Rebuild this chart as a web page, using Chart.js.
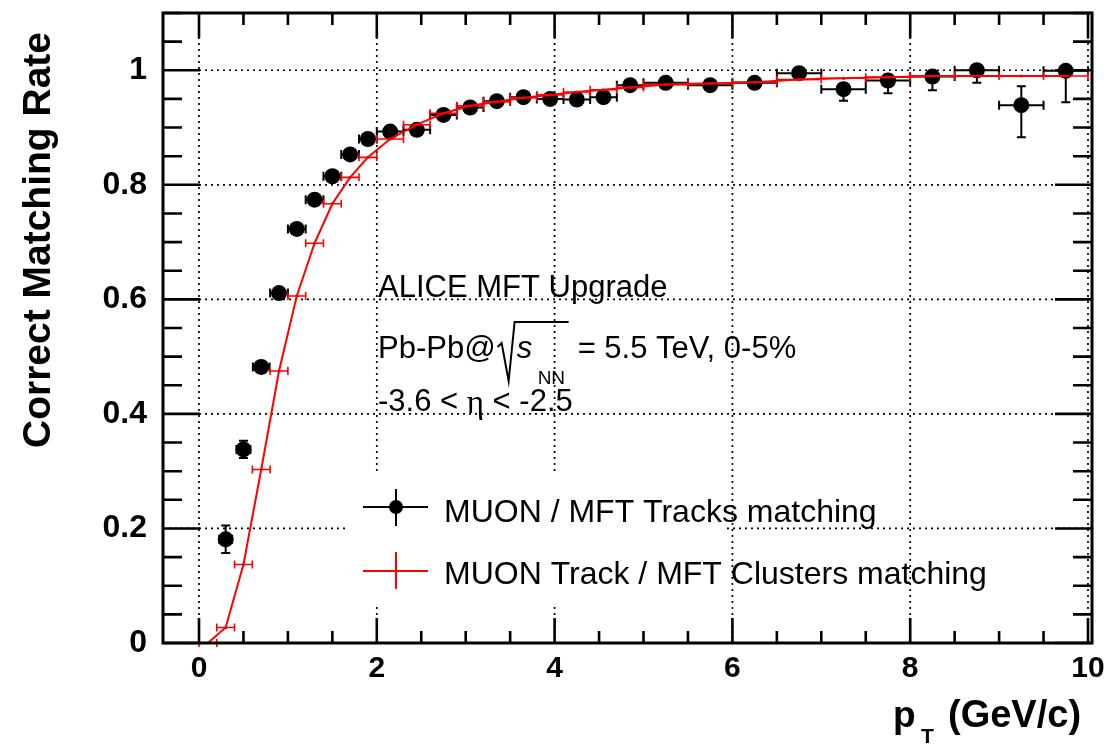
<!DOCTYPE html>
<html><head><meta charset="utf-8">
<script src="https://cdn.jsdelivr.net/npm/chart.js@4.4.1/dist/chart.umd.min.js"></script>
<style>html,body{margin:0;padding:0;background:#fff;}canvas{display:block;}</style>
</head><body>
<canvas id="c" width="1108" height="744"></canvas>
<script>
// ---------- data ----------
const trackPt      = [0.3,0.5,0.7,0.9,1.1,1.3,1.5,1.7,1.9, 2.15,2.45,2.75,3.05,3.35,3.65,3.95,4.25,4.55,4.85, 5.25,5.75,6.25,6.75,7.25,7.75,8.25,8.75,9.25,9.75];
const trackRate    = [0.181,0.338,0.482,0.611,0.723,0.774,0.815,0.853,0.880, 0.893,0.896,0.922,0.935,0.946,0.953,0.950,0.949,0.953,0.974, 0.978,0.974,0.978,0.995,0.967,0.982,0.989,1.000,0.939,0.999];
const trackPtErr   = [0.073,0.079,0.094,0.1,0.1,0.1,0.1,0.1,0.1, 0.15,0.15,0.15,0.15,0.15,0.15,0.15,0.15,0.15,0.15, 0.25,0.25,0.25,0.25,0.25,0.25,0.25,0.25,0.25,0.25];
const trackErrLow  = [0.024,0.015,0.010,0.008,0.007,0.006,0.006,0.005,0.005, 0.005,0.005,0.004,0.004,0.004,0.004,0.004,0.005,0.005,0.004, 0.004,0.005,0.006,0.005,0.020,0.022,0.024,0.022,0.056,0.055];
const trackErrHigh = [0.024,0.015,0.010,0.008,0.007,0.006,0.006,0.005,0.005, 0.005,0.005,0.004,0.004,0.004,0.004,0.004,0.005,0.005,0.004, 0.004,0.005,0.005,0.004,0.010,0.010,0.009,0.000,0.033,0.000];

const clusterPt    = [0.1,0.3,0.5,0.7,0.9,1.1,1.3,1.5,1.7,1.9, 2.15,2.45,2.75,3.05,3.35,3.65,3.95,4.25,4.55,4.85, 5.25,5.75,6.25,6.75,7.25,7.75,8.25,8.75,9.25,9.75];
const clusterRate  = [0.000,0.027,0.137,0.303,0.475,0.606,0.698,0.767,0.813,0.848, 0.880,0.905,0.925,0.938,0.945,0.952,0.957,0.962,0.966,0.970, 0.975,0.977,0.979,0.984,0.986,0.988,0.990,0.990,0.990,0.990];
const clusterPtErr = [0.1,0.1,0.1,0.1,0.1,0.1,0.1,0.1,0.1,0.1, 0.15,0.15,0.15,0.15,0.15,0.15,0.15,0.15,0.15,0.15, 0.25,0.25,0.25,0.25,0.25,0.25,0.25,0.25,0.25,0.25];

const seriesNames  = ['MUON / MFT Tracks matching', 'MUON Track / MFT Clusters matching'];
const xTickValues  = [0,2,4,6,8,10];
const xTickLabels  = ['0','2','4','6','8','10'];
const yTickValues  = [0,0.2,0.4,0.6,0.8,1];
const yTickLabels  = ['0','0.2','0.4','0.6','0.8','1'];
const xTitleMain = 'p', xTitleSub = 'T', xTitleUnit = '(GeV/c)';
const yTitle = 'Correct Matching Rate';
const infoLines = ['ALICE MFT Upgrade', 'Pb-Pb@', 's', 'NN', '= 5.5 TeV, 0-5%', '-3.6 < ', '\u03b7', ' < -2.5'];

// ---------- helpers ----------
const SANS = "'Liberation Sans', Arial, Helvetica, sans-serif";
const lookup = (vals, labels) => v => {
  const i = vals.findIndex(t => Math.abs(t - v) < 1e-6);
  return i >= 0 ? labels[i] : '';
};

function errBars(chart, pts, vals, ptErr, lo, hi, color, lw, cap) {
  const {ctx, scales: {x, y}} = chart;
  ctx.save();
  ctx.strokeStyle = color; ctx.lineWidth = lw; ctx.setLineDash([]);
  ctx.beginPath();
  for (let i = 0; i < pts.length; i++) {
    const px = x.getPixelForValue(pts[i]);
    const py = y.getPixelForValue(vals[i]);
    const x1 = x.getPixelForValue(pts[i] - ptErr[i]);
    const x2 = x.getPixelForValue(pts[i] + ptErr[i]);
    ctx.moveTo(x1, py); ctx.lineTo(x2, py);
    ctx.moveTo(x1, py - cap); ctx.lineTo(x1, py + cap);
    ctx.moveTo(x2, py - cap); ctx.lineTo(x2, py + cap);
    if (lo && lo[i] > 0) {
      const y1 = y.getPixelForValue(vals[i] - lo[i]);
      ctx.moveTo(px, py); ctx.lineTo(px, y1);
      ctx.moveTo(px - cap, y1); ctx.lineTo(px + cap, y1);
    }
    if (hi && hi[i] > 0) {
      const y2 = y.getPixelForValue(vals[i] + hi[i]);
      ctx.moveTo(px, py); ctx.lineTo(px, y2);
      ctx.moveTo(px - cap, y2); ctx.lineTo(px + cap, y2);
    }
  }
  ctx.stroke();
  ctx.restore();
}

const rootStyle = {
  id: 'rootStyle',
  beforeDatasetsDraw(chart) {
    const {ctx, chartArea: a, scales: {x, y}} = chart;
    ctx.save();
    // dotted grid
    ctx.strokeStyle = '#000'; ctx.lineWidth = 1.7; ctx.setLineDash([2, 4]);
    ctx.beginPath();
    x.ticks.forEach(t => { const p = x.getPixelForValue(t.value); ctx.moveTo(p, a.top); ctx.lineTo(p, a.bottom); });
    y.ticks.forEach(t => { if (t.value <= y.min) return; const p = y.getPixelForValue(t.value); ctx.moveTo(a.left, p); ctx.lineTo(a.right, p); });
    ctx.stroke();
    ctx.setLineDash([]);
    // legend box (white, borderless) hides the grid behind it
    ctx.fillStyle = '#fff';
    ctx.fillRect(347, 473, 380, 130);
    ctx.restore();
    // black error bars below markers
    errBars(chart, trackPt, trackRate, trackPtErr, trackErrLow, trackErrHigh, '#000', 2, 4.5);
  },
  afterDatasetsDraw(chart) {
    const {ctx, chartArea: a, scales: {x, y}} = chart;
    errBars(chart, clusterPt, clusterRate, clusterPtErr, null, null, '#ff0000', 1.6, 4);
    ctx.save();
    // frame
    ctx.strokeStyle = '#000'; ctx.lineWidth = 3; ctx.setLineDash([]);
    ctx.strokeRect(a.left, a.top, a.right - a.left, a.bottom - a.top);
    // inward ticks
    ctx.lineWidth = 2.6;
    ctx.beginPath();
    for (let k = Math.ceil(x.min / 0.5); k * 0.5 <= x.max + 1e-9; k++) {
      const v = k * 0.5, p = x.getPixelForValue(v);
      const major = Math.abs(v / 2 - Math.round(v / 2)) < 1e-6;
      const L = major ? 25 : 12;
      ctx.moveTo(p, a.bottom); ctx.lineTo(p, a.bottom - L);
      ctx.moveTo(p, a.top); ctx.lineTo(p, a.top + L);
    }
    for (let k = Math.ceil(y.min / 0.05); k * 0.05 <= y.max + 1e-9; k++) {
      const v = k * 0.05, p = y.getPixelForValue(v);
      const major = Math.abs(v / 0.2 - Math.round(v / 0.2)) < 1e-6;
      const L = major ? 37 : 19;
      ctx.moveTo(a.left, p); ctx.lineTo(a.left + L, p);
      ctx.moveTo(a.right, p); ctx.lineTo(a.right - L, p);
    }
    ctx.stroke();

    // info text
    ctx.fillStyle = '#000';
    ctx.textAlign = 'left'; ctx.textBaseline = 'alphabetic';
    ctx.font = `31px ${SANS}`;
    ctx.fillText(infoLines[0], 378, 297);
    // line 2 with sqrt
    let cx = 378;
    ctx.fillText(infoLines[1], cx, 358);
    cx += ctx.measureText(infoLines[1]).width;
    ctx.lineWidth = 2; ctx.lineJoin = 'miter';
    ctx.beginPath();
    ctx.moveTo(cx + 2, 347); ctx.lineTo(cx + 6, 343); ctx.lineTo(cx + 13, 381);
    ctx.lineTo(cx + 19, 322); ctx.lineTo(cx + 73, 322);
    ctx.stroke();
    ctx.font = `italic 31px ${SANS}`;
    ctx.fillText(infoLines[2], cx + 21, 358);
    ctx.font = `19px ${SANS}`;
    ctx.fillText(infoLines[3], cx + 42, 384);
    ctx.font = `31px ${SANS}`;
    ctx.fillText(infoLines[4], cx + 82, 358);
    // line 3 with eta
    cx = 378;
    ctx.fillText(infoLines[5], cx, 411);
    cx += ctx.measureText(infoLines[5]).width;
    ctx.font = `33px 'Liberation Serif', 'DejaVu Serif', serif`;
    ctx.fillText(infoLines[6], cx, 413);
    cx += ctx.measureText(infoLines[6]).width;
    ctx.font = `31px ${SANS}`;
    ctx.fillText(infoLines[7], cx, 411);

    // legend entries
    const ly = [507, 571];
    ctx.lineWidth = 2;
    ctx.strokeStyle = '#000';
    ctx.beginPath(); ctx.moveTo(363, ly[0]); ctx.lineTo(428, ly[0]); ctx.moveTo(396, ly[0] - 18); ctx.lineTo(396, ly[0] + 19); ctx.stroke();
    ctx.beginPath(); ctx.arc(396, ly[0], 7, 0, Math.PI * 2); ctx.fill();
    ctx.strokeStyle = '#ff0000';
    ctx.beginPath(); ctx.moveTo(363, ly[1]); ctx.lineTo(428, ly[1]); ctx.moveTo(396, ly[1] - 19); ctx.lineTo(396, ly[1] + 18); ctx.stroke();
    ctx.fillStyle = '#000';
    ctx.font = `32px ${SANS}`;
    ctx.fillText(chart.data.datasets[0].label, 444, 522);
    ctx.fillText(chart.data.datasets[1].label, 444, 584);

    // axis titles
    ctx.font = `bold 38px ${SANS}`;
    ctx.fillText(xTitleUnit, 948, 727);
    ctx.font = `bold 37px ${SANS}`;
    ctx.fillText(xTitleMain, 893, 727);
    ctx.font = `bold 21px ${SANS}`;
    ctx.fillText(xTitleSub, 921, 743);
    ctx.save();
    ctx.translate(50, 240);
    ctx.rotate(-Math.PI / 2);
    ctx.textAlign = 'center';
    ctx.font = `bold 39px ${SANS}`;
    ctx.fillText(yTitle, 0, 0);
    ctx.restore();
    ctx.restore();
  }
};

Chart.defaults.font.family = SANS;
new Chart(document.getElementById('c'), {
  type: 'scatter',
  data: {
    datasets: [
      {
        label: seriesNames[0],
        data: trackPt.map((p, i) => ({x: p, y: trackRate[i]})),
        showLine: false,
        pointRadius: 8, pointHoverRadius: 8,
        pointBackgroundColor: '#000', pointBorderColor: '#000', pointBorderWidth: 0,
        order: 1
      },
      {
        label: seriesNames[1],
        data: clusterPt.map((p, i) => ({x: p, y: clusterRate[i]})),
        showLine: true,
        borderColor: '#ff0000', borderWidth: 2, tension: 0,
        pointRadius: 1.6, pointBackgroundColor: '#ff0000', pointBorderColor: '#ff0000', pointBorderWidth: 0,
        order: 0
      }
    ]
  },
  options: {
    responsive: false,
    devicePixelRatio: 1,
    animation: false,
    events: [],
    layout: {padding: {top: 13, right: 16, left: 0, bottom: 0}},
    plugins: {legend: {display: false}, tooltip: {enabled: false}},
    scales: {
      x: {
        type: 'linear', min: -0.405, max: 10.045,
        afterFit(s) { s.height = 101; s.paddingLeft = 0; s.paddingRight = 0; },
        grid: {display: false, drawTicks: false},
        border: {display: false},
        ticks: {stepSize: 2, includeBounds: false, autoSkip: false, maxRotation: 0,
                padding: 8, color: '#000', font: {size: 30, weight: 'bold'},
                callback: lookup(xTickValues, xTickLabels)}
      },
      y: {
        type: 'linear', min: 0, max: 1.1,
        afterFit(s) { s.width = 163; s.paddingTop = 0; s.paddingBottom = 0; },
        grid: {display: false, drawTicks: false},
        border: {display: false},
        ticks: {stepSize: 0.2, includeBounds: false, autoSkip: false,
                padding: 16, color: '#000', font: {size: 32, weight: 'bold'},
                callback: lookup(yTickValues, yTickLabels)}
      }
    }
  },
  plugins: [rootStyle]
});
</script>
</body></html>
